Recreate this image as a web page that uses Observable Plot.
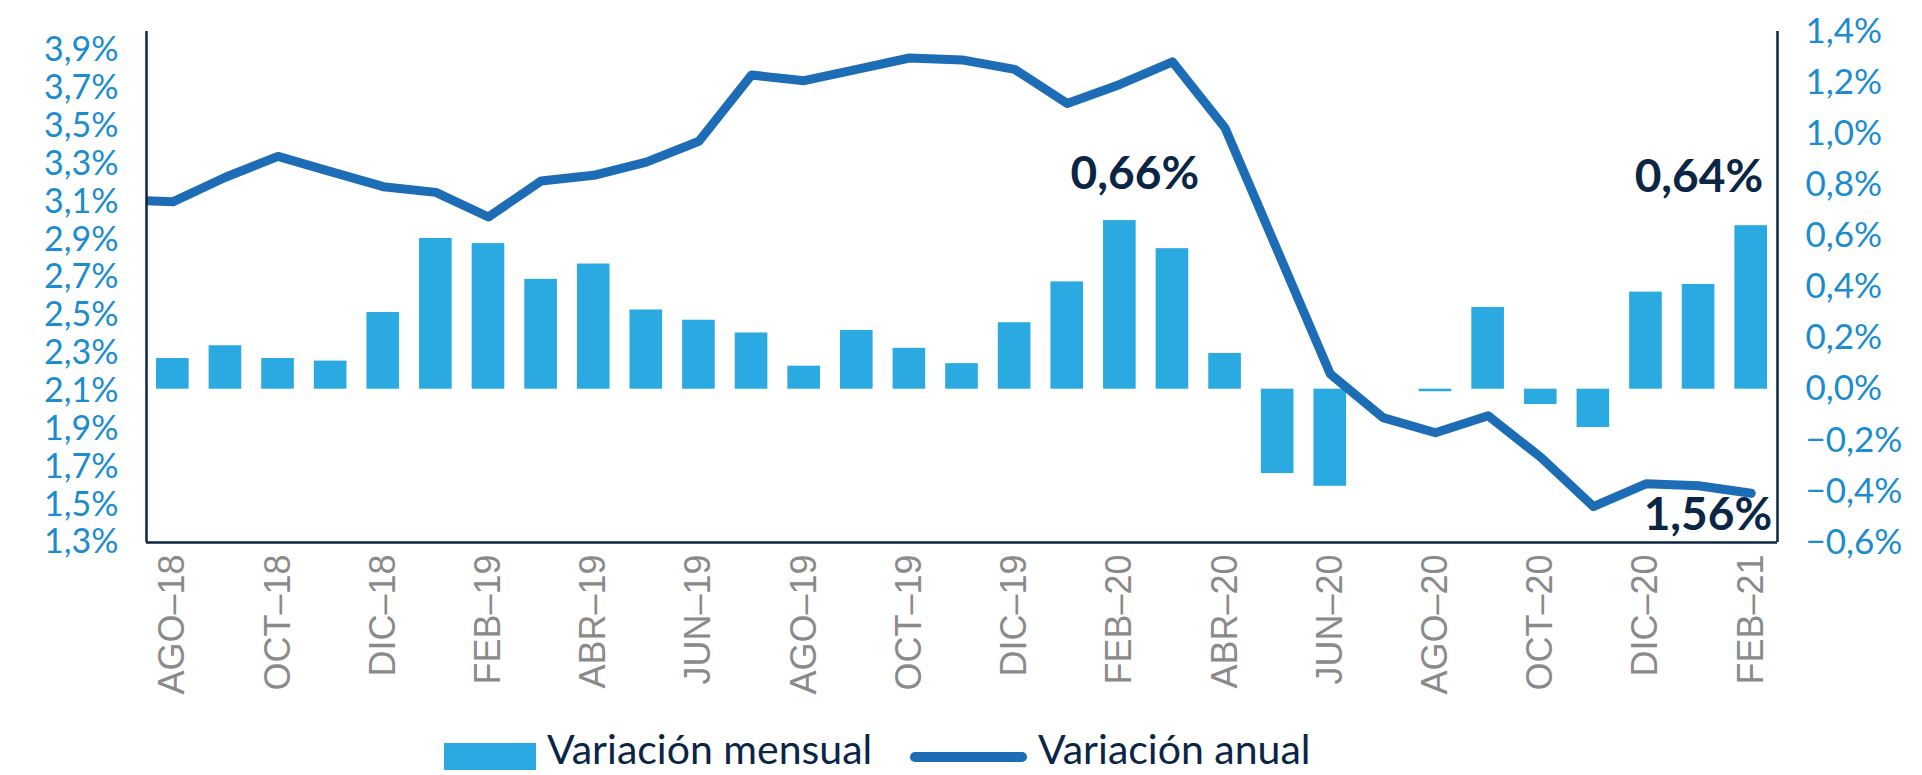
<!DOCTYPE html>
<html><head><meta charset="utf-8">
<script src="https://cdn.jsdelivr.net/npm/d3@7"></script>
<script src="https://cdn.jsdelivr.net/npm/@observablehq/plot@0.6"></script>
<style>
html,body{margin:0;padding:0;background:#fff;}
#wrap{position:relative;width:1922px;height:775px;overflow:hidden;}
.leg{position:absolute;font-family:Lato,sans-serif;color:#0b2545;font-size:41px;line-height:0.9;white-space:nowrap;}
</style></head><body><div id="wrap"><div id="chart"></div><div id="legend"></div></div>
<script>
// Categories (monthly) shown on the x axis
const meses = ["AGO–18","SEP–18","OCT–18","NOV–18","DIC–18","ENE–19","FEB–19","MAR–19","ABR–19","MAY–19","JUN–19","JUL–19","AGO–19","SEP–19","OCT–19","NOV–19","DIC–19","ENE–20","FEB–20","MAR–20","ABR–20","MAY–20","JUN–20","JUL–20","AGO–20","SEP–20","OCT–20","NOV–20","DIC–20","ENE–21","FEB–21"];
// Variación mensual (%), right axis
const mensual = [0.12,0.17,0.12,0.11,0.30,0.59,0.57,0.43,0.49,0.31,0.27,0.22,0.09,0.23,0.16,0.10,0.26,0.42,0.66,0.55,0.14,-0.33,-0.38,0.00,-0.01,0.32,-0.06,-0.15,0.38,0.41,0.64];
// Variación anual (%), left axis
const anual = [3.10,3.23,3.34,3.26,3.18,3.15,3.02,3.21,3.24,3.31,3.42,3.77,3.74,3.80,3.86,3.85,3.80,3.62,3.72,3.84,3.49,2.84,2.19,1.96,1.88,1.97,1.75,1.49,1.61,1.60,1.56];
// previous month (JUL-18) of the annual series, clipped at the plot edge
const anualPrevio = 3.11;
// Tick values
const ticksMensual = [-0.6,-0.4,-0.2,0.0,0.2,0.4,0.6,0.8,1.0,1.2,1.4];
const ticksAnual = [1.3,1.5,1.7,1.9,2.1,2.3,2.5,2.7,2.9,3.1,3.3,3.5,3.7,3.9];
const domMensual = [-0.6, 1.4];
const domAnual = [1.3, 4.0];
// Series names
const series = ["Variación mensual", "Variación anual"];
// Highlighted labels (indices)
const destacadosMensual = [18, 30];
const destacadoAnual = [30];

const colBar = "#2aaae0", colLine = "#1c6db5", colAxis = "#0b2545", colTick = "#1a8ccf", colDark = "#0b2545";
const toRight = d3.scaleLinear().domain(domAnual).range(domMensual);
const fmt = (v, d) => (v < -1e-9 ? "−" : "") + Math.abs(v).toFixed(d).replace(".", ",") + "%";

const bars = meses.map((m, i) => ({i, v: mensual[i]}));
const linea = [{i: -1, v: anualPrevio}, ...anual.map((v, i) => ({i, v}))];
const xDomain = [-0.5, meses.length - 0.5];

const chart = Plot.plot({
  width: 1922, height: 738,
  marginTop: 31, marginBottom: 196, marginLeft: 146, marginRight: 145,
  style: {fontFamily: "Lato, sans-serif", background: "transparent", overflow: "visible"},
  x: {type: "linear", domain: xDomain},
  y: {domain: domMensual},
  marks: [
    Plot.rect(bars, {x1: d => d.i - 0.31, x2: d => d.i + 0.31, y1: 0, y2: "v", fill: colBar}),
    Plot.line(linea, {x: "i", y: d => toRight(d.v), stroke: colLine, strokeWidth: 9, strokeLinejoin: "round", strokeLinecap: "round", clip: true}),
    Plot.ruleX(xDomain, {stroke: colAxis, strokeWidth: 2.5}),
    Plot.ruleY([domMensual[0]], {stroke: colAxis, strokeWidth: 2.5}),
    Plot.axisX({ticks: meses.map((m, i) => i).filter(i => i % 2 === 0), tickFormat: i => meses[i], tickRotate: -90, tickSize: 0, tickPadding: 12, fontSize: 36, fontFamily: "Liberation Sans, Arial, sans-serif", fill: "#8a8a8a", label: null}),
    Plot.axisY({anchor: "right", ticks: ticksMensual, tickFormat: v => fmt(v, 1), tickSize: 0, tickPadding: 28, fontSize: 35, fill: colTick, label: null}),
    Plot.axisY({anchor: "left", ticks: ticksAnual.map(v => toRight(v)), tickFormat: v => fmt(toRight.invert(v), 1), tickSize: 0, tickPadding: 28, fontSize: 34, fill: colTick, label: null}),
    Plot.text([destacadosMensual[0]], {x: d => d, y: d => mensual[d], text: d => fmt(mensual[d], 2), dx: 15, dy: -32, lineAnchor: "bottom", fontSize: 46, fontWeight: 700, fill: colDark}),
    Plot.text([destacadosMensual[1]], {x: d => d, y: d => mensual[d], text: d => fmt(mensual[d], 2), textAnchor: "end", dx: 12, dy: -34, lineAnchor: "bottom", fontSize: 46, fontWeight: 700, fill: colDark}),
    Plot.text(destacadoAnual, {x: d => d, y: d => toRight(anual[d]), text: d => fmt(anual[d], 2), textAnchor: "end", dx: 21, dy: 37, lineAnchor: "bottom", fontSize: 46, fontWeight: 700, fill: colDark})
  ]
});
document.getElementById("chart").appendChild(chart);

// Legend (HTML, below the SVG)
const leg = document.getElementById("legend");
const items = [
  {style: `left:444px;top:743px;width:92px;height:27px;background:${colBar}`, text: ""},
  {style: "left:547px;top:731px", text: series[0]},
  {style: `left:910px;top:752px;width:117px;height:10px;border-radius:5px;background:${colLine}`, text: ""},
  {style: "left:1038px;top:731px", text: series[1]}
];
for (const it of items) {
  const el = document.createElement("div");
  el.className = "leg"; el.style.cssText = it.style; el.textContent = it.text;
  leg.appendChild(el);
}
</script></body></html>
